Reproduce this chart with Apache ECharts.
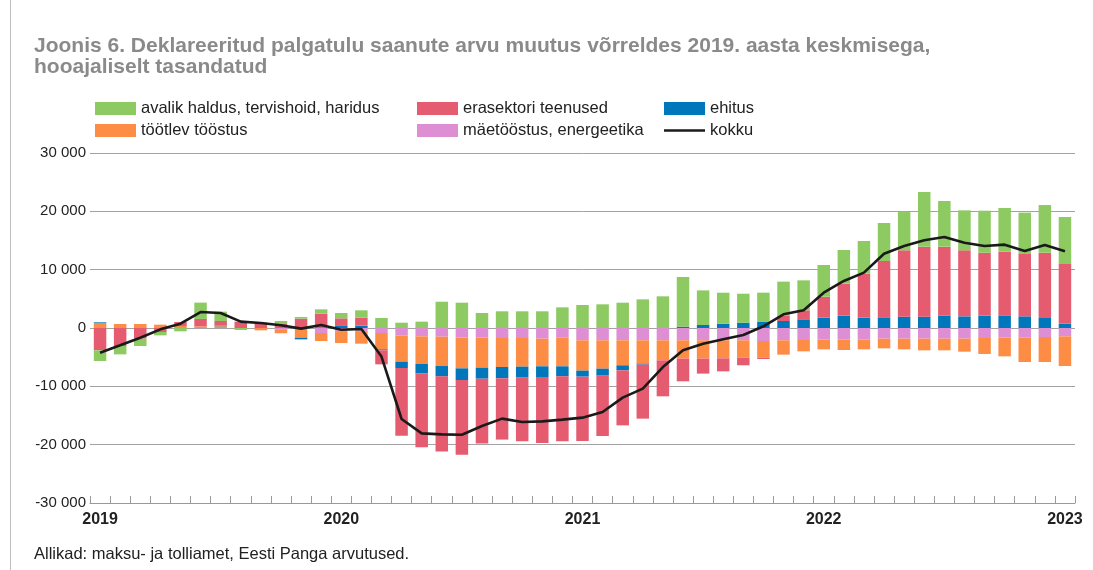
<!DOCTYPE html>
<html>
<head>
<meta charset="utf-8">
<script src="https://cdn.jsdelivr.net/npm/echarts@6/dist/echarts.min.js"></script>
<style>
html,body{margin:0;padding:0;background:#fff;}
#c{width:1093px;height:570px;}
</style>
</head>
<body>
<div id="c"></div>
<script>
const categories = [
 "2019-01","2019-02","2019-03","2019-04","2019-05","2019-06","2019-07","2019-08","2019-09","2019-10","2019-11","2019-12",
 "2020-01","2020-02","2020-03","2020-04","2020-05","2020-06","2020-07","2020-08","2020-09","2020-10","2020-11","2020-12",
 "2021-01","2021-02","2021-03","2021-04","2021-05","2021-06","2021-07","2021-08","2021-09","2021-10","2021-11","2021-12",
 "2022-01","2022-02","2022-03","2022-04","2022-05","2022-06","2022-07","2022-08","2022-09","2022-10","2022-11","2022-12",
 "2023-01"
];
const yTicks = [-30000, -20000, -10000, 0, 10000, 20000, 30000];

const avalik = [-1830,-1430,-1260,-570,-570,2800,1600,-340,0,400,290,740,
 910,1260,1710,910,1090,4510,4340,2570,2860,2860,2860,3540,
 3940,4060,4340,4910,5430,8510,5940,5310,4970,5030,5890,5140,
 5430,5770,5600,6510,6570,9370,7830,6860,7200,7490,7090,8170,
 8060];
const erasektor = [-3830,-3090,-1830,-690,690,1260,800,1090,910,800,1600,2460,
 1200,1370,-2400,-11600,-12690,-12860,-12800,-11090,-10510,-10910,-11310,-11140,
 -11030,-10340,-9430,-9260,-6170,-3890,-2570,-2230,-1310,-230,860,1540,
 3600,5490,7540,9660,11370,12000,11830,11310,10800,10910,10690,11200,
 10230];
const ehitus = [170,0,0,0,0,0,100,0,0,0,-290,0,
 460,400,-170,-1090,-1600,-1770,-2000,-1890,-1940,-1890,-1830,-1710,
 -1030,-1200,-860,-170,0,230,510,740,910,1030,1200,1490,
 1770,2110,1770,1830,1940,1940,2110,2000,2110,2170,2000,1710,
 740];
const tootlev = [800,690,690,570,340,290,300,0,-400,-700,-1660,-1370,
 -1890,-2000,-2800,-4460,-4740,-5030,-5260,-5140,-4970,-4910,-4740,-4970,
 -5200,-4860,-4290,-4000,-3430,-3140,-3140,-3090,-2970,-2860,-2460,-1940,
 -1660,-1770,-1660,-1660,-1830,-2000,-2000,-2230,-2740,-3200,-4170,-4290,
 -5090];
const maetoostus = [0,0,0,0,0,0,0,0,0,-200,0,-860,
 -690,-690,-860,-1310,-1430,-1490,-1660,-1660,-1710,-1710,-1830,-1600,
 -2110,-2110,-2110,-2110,-2110,-2110,-2110,-2110,-2110,-2230,-2110,-2060,
 -2000,-2000,-2000,-1830,-1830,-1830,-1830,-1830,-1710,-1660,-1660,-1540,
 -1430];
const kokku = [-4230,-2970,-1660,-230,740,2740,2570,1090,860,460,-110,510,
 -290,-170,-4900,-15600,-18060,-18230,-18290,-16800,-15540,-16110,-16000,-15710,
 -15370,-14400,-11940,-10400,-6690,-3830,-2690,-1940,-1200,290,2340,3030,
 6060,8060,9490,12740,14060,15030,15600,14630,14060,14290,13200,14230,
 13140];

const names = {
  avalik: "avalik haldus, tervishoid, haridus",
  era: "erasektori teenused",
  ehitus: "ehitus",
  tootlev: "töötlev tööstus",
  mae: "mäetööstus, energeetika",
  kokku: "kokku"
};
const colors = {
  avalik: "#8dcb62",
  era: "#e55c70",
  ehitus: "#0077bb",
  tootlev: "#fd8c44",
  mae: "#de8fd3",
  kokku: "#1a1a1a"
};

const FONT = "'Liberation Sans', Arial, Helvetica, sans-serif";
function fmt(v){
  const s = Math.abs(v).toString().replace(/\B(?=(\d{3})+(?!\d))/g, " ");
  return (v < 0 ? "-" : "") + s;
}

const chart = echarts.init(document.getElementById('c'), null, {renderer:'canvas'});
const legendBase = {
  orient: 'vertical', itemWidth: 41, itemHeight: 13, itemGap: 5, top: 95, padding: 5,
  textStyle: {fontFamily: FONT, fontSize: 16.5, color: '#222', lineHeight: 17},
  selectedMode: false, icon: 'rect'
};
function barSeries(key, data){
  return {
    name: names[key], type: 'bar', stack: 'total', data: data,
    barWidth: 12.5, itemStyle: {color: colors[key]}, emphasis: {disabled: true}
  };
}
chart.setOption({
  animation: false,
  title: {
    text: "Joonis 6. Deklareeritud palgatulu saanute arvu muutus võrreldes 2019. aasta keskmisega,\nhooajaliselt tasandatud",
    left: 29, top: 31, padding: 5,
    textStyle: {fontFamily: FONT, fontSize: 21, fontWeight: 'bold', color: '#8a8a8a', lineHeight: 20.5}
  },
  legend: [
    Object.assign({}, legendBase, {left: 90, data: [names.avalik, names.tootlev]}),
    Object.assign({}, legendBase, {left: 412, data: [names.era, names.mae]}),
    Object.assign({}, legendBase, {left: 659, data: [names.ehitus, {name: names.kokku, icon: 'path://M0,6L41,6L41,8.5L0,8.5Z'}]})
  ],
  grid: {left: 90, right: 18, top: 153, bottom: 67},
  xAxis: {
    type: 'category', data: categories, boundaryGap: true,
    axisLine: {onZero: false, lineStyle: {color: '#9a9a9a', width: 1}},
    axisTick: {show: true, inside: true, length: 7, interval: 0, lineStyle: {color: '#9a9a9a'}},
    axisLabel: {
      interval: 11, margin: 9,
      fontFamily: FONT, fontSize: 16, fontWeight: 'bold', color: '#222',
      formatter: v => v.slice(0, 4)
    }
  },
  yAxis: {
    type: 'value', min: yTicks[0], max: yTicks[yTicks.length-1], interval: 10000,
    axisLine: {show: false}, axisTick: {show: false},
    splitLine: {lineStyle: {color: '#a3a3a3', width: 1}},
    axisLabel: {fontFamily: FONT, fontSize: 15, color: '#222', margin: 4, formatter: fmt}
  },
  graphic: [
    {type: 'line', shape: {x1: 10.5, y1: 0, x2: 10.5, y2: 570}, style: {stroke: '#bdbdbd', lineWidth: 1}},
    {type: 'text', left: 34, top: 546, style: {text: "Allikad: maksu- ja tolliamet, Eesti Panga arvutused.", font: "16.5px " + FONT, fill: '#222'}}
  ],
  series: [
    barSeries('mae', maetoostus),
    barSeries('tootlev', tootlev),
    barSeries('ehitus', ehitus),
    barSeries('era', erasektor),
    barSeries('avalik', avalik),
    {
      name: names.kokku, type: 'line', data: kokku, symbol: 'none', z: 10,
      lineStyle: {color: colors.kokku, width: 2.6}, itemStyle: {color: colors.kokku},
      emphasis: {disabled: true}
    }
  ]
});
</script>
</body>
</html>
